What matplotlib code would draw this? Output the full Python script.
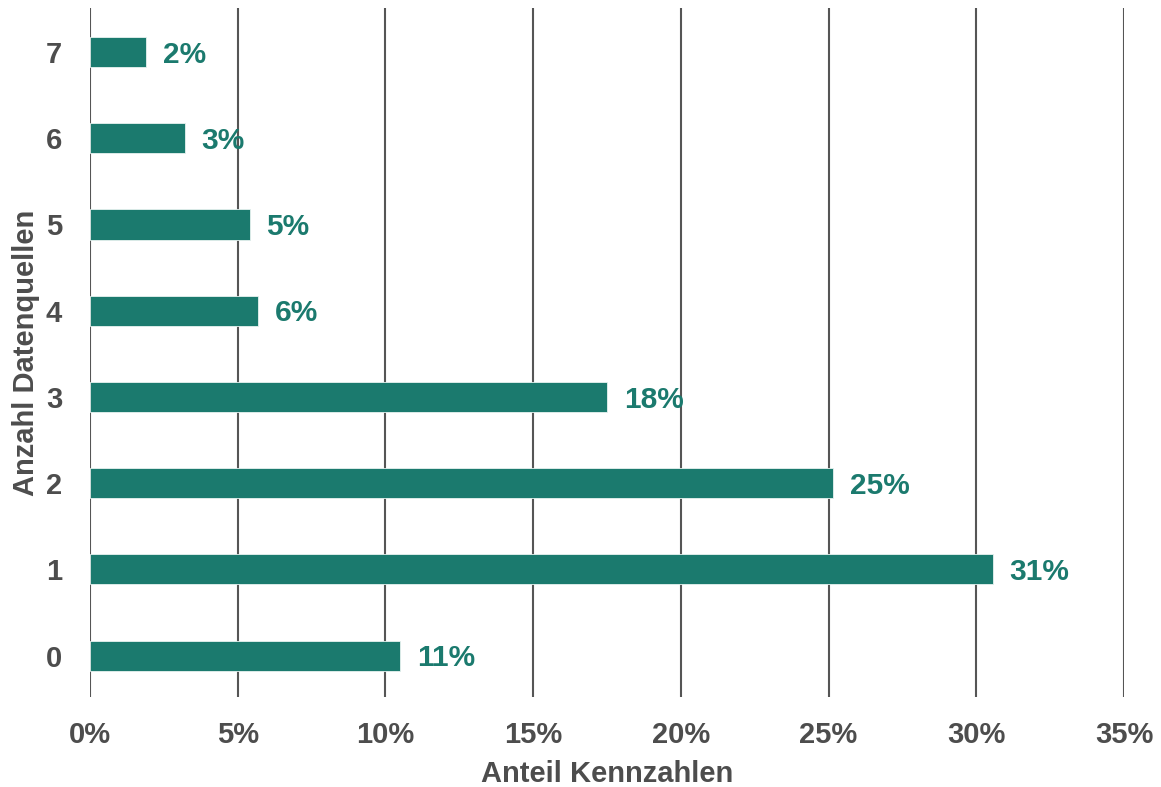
import matplotlib.pyplot as plt
from matplotlib.ticker import FuncFormatter

plt.rcParams['font.family'] = ['Liberation Sans', 'DejaVu Sans']
plt.rcParams['font.weight'] = 'bold'

# Daten
quellen = [0, 1, 2, 3, 4, 5, 6, 7]
anteil = [10.5, 30.55, 25.15, 17.5, 5.7, 5.4, 3.2, 1.9]
beschriftung = ['11%', '31%', '25%', '18%', '6%', '5%', '3%', '2%']

gruen = '#1b7a6e'
grau = '#4d4d4d'

fig = plt.figure(figsize=(11.61, 7.87), dpi=100)
ax = fig.add_axes([90 / 1161, 90 / 787, (1124 - 90) / 1161, (697 - 8) / 787])

ax.barh(quellen, anteil, height=0.35, color=gruen, edgecolor='#e8f2f0', linewidth=0.6, zorder=3)
for y, v, t in zip(quellen, anteil, beschriftung):
    ax.annotate(t, (v, y), xytext=(12, -2), textcoords='offset points',
                va='center', ha='left', color=gruen, fontsize=21.5, fontweight='bold')

ax.set_xlim(0, 35)
ax.set_ylim(-0.48, 7.51)
ax.set_xticks(range(0, 36, 5))
ax.xaxis.set_major_formatter(FuncFormatter(lambda v, p: f'{v:.0f}%'))
ax.set_yticks(quellen)
ax.grid(axis='x', color='#555555', linewidth=1.5, zorder=1)
ax.set_axisbelow(True)
for s in ax.spines.values():
    s.set_visible(False)
ax.tick_params(length=0, labelsize=21, labelcolor=grau, pad=17)
ax.tick_params(axis='y', pad=20)

ax.set_xlabel('Anteil Kennzahlen', fontsize=21, color=grau, fontweight='bold', labelpad=8)
ax.set_ylabel('Anzahl Datenquellen', fontsize=21, color=grau, fontweight='bold', labelpad=4)

fig.savefig('out.png', dpi=100)
